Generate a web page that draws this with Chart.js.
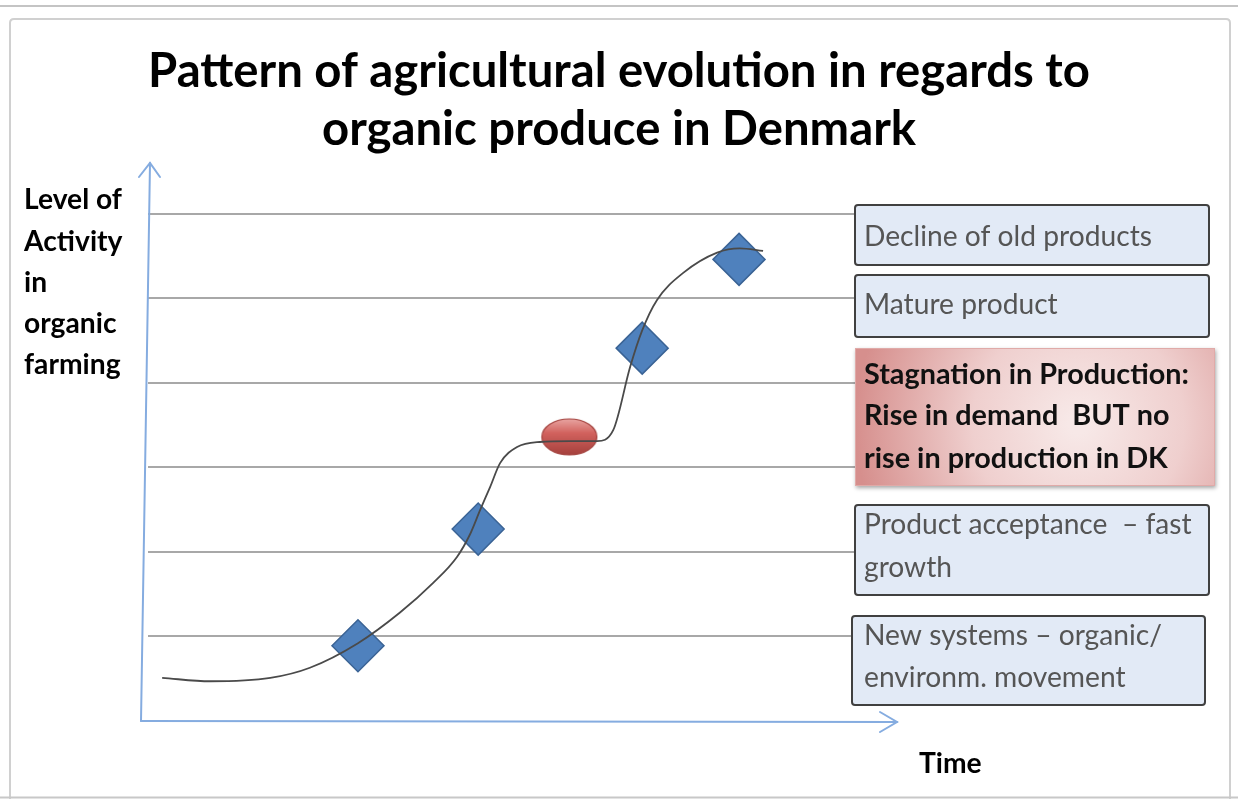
<!DOCTYPE html>
<html><head><meta charset="utf-8">
<script src="https://cdn.jsdelivr.net/npm/chart.js@4.4.1/dist/chart.umd.min.js"></script>
<style>html,body{margin:0;padding:0;background:#fff;}#wrap{width:1238px;height:799px;position:relative;}</style>
</head><body><div id="wrap"><canvas id="c" width="1238" height="799"></canvas></div>
<script>
// ---- data ----
const titleLines = ['Pattern of agricultural evolution in regards to', 'organic produce in Denmark'];
const yAxisLabel = ['Level of', 'Activity', 'in', 'organic', 'farming'];
const xAxisLabel = 'Time';
const curveX = [2.0, 8.8, 17.3, 22.9, 29.7, 35.6, 40.3, 43.7, 45.5, 47.0, 48.4, 49.8, 52.2, 55.4, 59.7, 63.5, 65.8, 68.2, 69.9, 72.0, 75.7, 80.5, 83.7, 87.0];
const curveY = [0.51, 0.47, 0.51, 0.63, 0.92, 1.28, 1.63, 1.94, 2.20, 2.50, 2.77, 3.05, 3.24, 3.30, 3.31, 3.31, 3.44, 4.19, 4.62, 4.98, 5.30, 5.54, 5.59, 5.56];
const milestoneX = [29.7, 46.7, 69.9, 83.6];
const milestoneY = [0.89, 2.27, 4.41, 5.46];
const stagnationX = [59.6];
const stagnationY = [3.36];
const levels = [1, 2, 3, 4, 5, 6];
const stageLabels = [
  ['Decline of old products'],
  ['Mature product'],
  ['Stagnation in Production:', 'Rise in demand  BUT no', 'rise in production in DK'],
  ['Product acceptance  \u2013 fast', 'growth'],
  ['New systems \u2013 organic/', 'environm. movement']
];

// ---- helpers ----
const FAMILY = 'Lato, "Open Sans", sans-serif';
const mctx = document.createElement('canvas').getContext('2d');
function fitSize(text, weight, target) {
  mctx.font = weight + ' 100px ' + FAMILY;
  return 100 * target / mctx.measureText(text).width;
}
const titleSize = fitSize(titleLines[0], 'bold', 942);
const boxSize = fitSize(stageLabels[0][0], 'normal', 288);
const boxBoldSize = fitSize(stageLabels[2][0], 'bold', 325);
const ySize = fitSize(yAxisLabel[0], 'bold', 98);

function makeEllipse() {
  const c = document.createElement('canvas');
  c.width = 58; c.height = 40;
  const g = c.getContext('2d');
  const grd = g.createLinearGradient(0, 1, 0, 39);
  grd.addColorStop(0, '#eaa9a6');
  grd.addColorStop(0.4, '#d2625e');
  grd.addColorStop(1, '#a33f3b');
  g.beginPath();
  g.ellipse(29, 20, 27.5, 18, 0, 0, Math.PI * 2);
  g.fillStyle = grd; g.fill();
  g.lineWidth = 1.2; g.strokeStyle = '#a3423e'; g.stroke();
  return c;
}

function rr(ctx, x, y, w, h, r) {
  ctx.beginPath();
  ctx.moveTo(x + r, y);
  ctx.lineTo(x + w - r, y); ctx.quadraticCurveTo(x + w, y, x + w, y + r);
  ctx.lineTo(x + w, y + h - r); ctx.quadraticCurveTo(x + w, y + h, x + w - r, y + h);
  ctx.lineTo(x + r, y + h); ctx.quadraticCurveTo(x, y + h, x, y + h - r);
  ctx.lineTo(x, y + r); ctx.quadraticCurveTo(x, y, x + r, y);
  ctx.closePath();
}

const decor = {
  id: 'decor',
  beforeDraw(chart) {
    const ctx = chart.ctx;
    ctx.save();
    ctx.strokeStyle = '#c4c4c4'; ctx.lineWidth = 2;
    ctx.beginPath(); ctx.moveTo(0, 6); ctx.lineTo(1238, 6); ctx.stroke();
    ctx.strokeStyle = '#d0d0d0';
    rr(ctx, 10, 19, 1220, 800, 4); ctx.stroke();
    ctx.strokeStyle = '#c8c8c8';
    ctx.beginPath(); ctx.moveTo(0, 797.5); ctx.lineTo(1238, 797.5); ctx.stroke();
    ctx.restore();
  },
  beforeDatasetsDraw(chart) {
    const ctx = chart.ctx, xs = chart.scales.x, ys = chart.scales.y;
    const y0 = ys.getPixelForValue(0), top = ys.top, left = xs.left;
    ctx.save();
    ctx.strokeStyle = '#85ace0'; ctx.lineWidth = 2; ctx.lineCap = 'round';
    // y axis
    ctx.beginPath(); ctx.moveTo(left - 7, y0); ctx.lineTo(left + 2, top); ctx.stroke();
    ctx.beginPath(); ctx.moveTo(left - 9, top + 14); ctx.lineTo(left + 2, top); ctx.lineTo(left + 12, top + 14); ctx.stroke();
    // x axis
    const xEnd = xs.right + 42;
    ctx.beginPath(); ctx.moveTo(left - 7, y0); ctx.lineTo(xEnd, y0 + 1); ctx.stroke();
    ctx.beginPath(); ctx.moveTo(xEnd - 17, y0 - 9); ctx.lineTo(xEnd, y0 + 1); ctx.lineTo(xEnd - 17, y0 + 11); ctx.stroke();
    ctx.restore();
  },
  afterDraw(chart) {
    const ctx = chart.ctx;
    ctx.save();
    // y axis label
    ctx.fillStyle = '#000'; ctx.textBaseline = 'middle'; ctx.textAlign = 'left';
    ctx.font = 'bold ' + ySize + 'px ' + FAMILY;
    const yl = [200, 242, 283, 324, 365];
    yAxisLabel.forEach((t, i) => ctx.fillText(t, 24, yl[i]));
    // x axis label
    ctx.fillText(xAxisLabel, 919, 764);
    // stage boxes
    const boxes = [
      {x: 855, y: 205, w: 354, h: 60, ty: [237]},
      {x: 855, y: 275, w: 354, h: 62, ty: [305]},
      {x: 855, y: 348, w: 360, h: 138, ty: [375, 416, 459], red: true},
      {x: 855, y: 505, w: 354, h: 90, ty: [525, 568]},
      {x: 852, y: 616, w: 353, h: 89, ty: [636, 678]}
    ];
    boxes.forEach((b, i) => {
      ctx.save();
      if (b.red) {
        ctx.shadowColor = 'rgba(0,0,0,0.35)'; ctx.shadowBlur = 4; ctx.shadowOffsetX = 1; ctx.shadowOffsetY = 2;
        const cx = b.x + b.w * 0.62, cy = b.y + b.h * 0.55;
        const g = ctx.createRadialGradient(cx, cy, 10, cx, cy, b.w * 0.62);
        g.addColorStop(0, '#f7e8e7');
        g.addColorStop(0.45, '#efcfce');
        g.addColorStop(1, '#d68f8d');
        ctx.fillStyle = g;
        ctx.fillRect(b.x, b.y, b.w, b.h);
        ctx.shadowColor = 'transparent';
        ctx.strokeStyle = '#e0aaa8'; ctx.lineWidth = 1;
        ctx.strokeRect(b.x + 0.5, b.y + 0.5, b.w - 1, b.h - 1);
      } else {
        ctx.fillStyle = '#e2eaf6';
        rr(ctx, b.x, b.y, b.w, b.h, 3); ctx.fill();
        ctx.strokeStyle = '#404040'; ctx.lineWidth = 2; ctx.stroke();
      }
      ctx.restore();
      ctx.fillStyle = b.red ? '#111' : '#555';
      ctx.font = (b.red ? 'bold ' + boxBoldSize : 'normal ' + boxSize) + 'px ' + FAMILY;
      stageLabels[i].forEach((t, j) => ctx.fillText(t, 864, b.ty[j]));
    });
    ctx.restore();
  }
};

const ellipseImg = makeEllipse();

new Chart(document.getElementById('c'), {
  type: 'scatter',
  data: {
    datasets: [
      {
        label: 'Activity',
        data: curveX.map((x, i) => ({x, y: curveY[i]})),
        showLine: true,
        cubicInterpolationMode: 'monotone',
        borderColor: '#4a4a4a', borderWidth: 1.8,
        pointRadius: 0, order: 0
      },
      {
        label: 'Stages',
        data: milestoneX.map((x, i) => ({x, y: milestoneY[i]})),
        pointStyle: 'rectRot', pointRadius: 26,
        backgroundColor: '#4f81bd', borderColor: '#3a6395', borderWidth: 1.5,
        order: 1
      },
      {
        label: 'Stagnation',
        data: stagnationX.map((x, i) => ({x, y: stagnationY[i]})),
        pointStyle: ellipseImg, pointRadius: 20,
        order: 1
      }
    ]
  },
  options: {
    responsive: false, animation: false,
    layout: {padding: {left: 0, right: 0, top: 0, bottom: 78}},
    plugins: {
      legend: {display: false}, tooltip: {enabled: false},
      title: {
        display: true, text: titleLines, color: '#000',
        font: {family: FAMILY, size: titleSize, weight: 'bold', lineHeight: '58px'},
        padding: {top: 43, bottom: 4}
      }
    },
    scales: {
      x: {type: 'linear', min: 0, max: 100, display: false},
      y: {
        type: 'linear', min: 0, max: 6.6, position: 'left',
        afterFit: s => { s.width = 148; },
        afterBuildTicks: s => { s.ticks = levels.map(v => ({value: v})); },
        ticks: {display: false},
        border: {display: false},
        grid: {color: '#a8a8a8', lineWidth: 2, drawTicks: false}
      },
      yRight: {
        type: 'linear', min: 0, max: 6.6, position: 'right',
        afterFit: s => { s.width = 383; },
        ticks: {display: false},
        border: {display: false},
        grid: {display: false}
      }
    }
  },
  plugins: [decor]
});
</script></body></html>
